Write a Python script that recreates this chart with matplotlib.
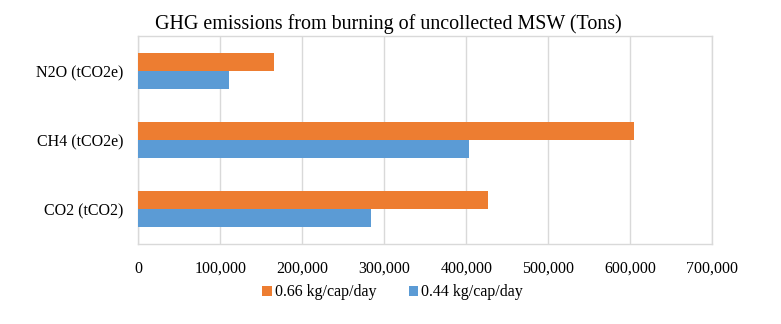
import matplotlib
matplotlib.use("Agg")
import matplotlib.pyplot as plt
import numpy as np
from matplotlib.ticker import FuncFormatter

categories = ["CO2 (tCO2)", "CH4 (tCO2e)", "N2O (tCO2e)"]
series_066 = [426500, 605000, 166000]
series_044 = [284300, 403000, 110600]
labels = ["0.66 kg/cap/day", "0.44 kg/cap/day"]
colors = ["#ED7D31", "#5B9BD5"]

plt.rcParams['font.family'] = ['Liberation Serif', 'DejaVu Serif']

fig = plt.figure(figsize=(7.81, 3.24), dpi=100)
ax = fig.add_axes([0.1771, 0.247, 0.912 - 0.1771, 0.888 - 0.247])

y = np.arange(len(categories))
h = 0.26
b1 = ax.barh(y + h / 2, series_066, height=h, color=colors[0], label=labels[0], zorder=3)
b2 = ax.barh(y - h / 2, series_044, height=h, color=colors[1], label=labels[1], zorder=3)

ax.set_xlim(0, 700000)
ax.set_ylim(-0.5, 2.5)
ax.set_xticks(np.arange(0, 700001, 100000))
ax.xaxis.set_major_formatter(FuncFormatter(lambda v, p: f"{int(v):,}"))
ax.set_yticks(y)
ax.set_yticklabels(categories)
ax.tick_params(axis='both', length=0, labelsize=11.5, colors='#000000')
ax.tick_params(axis='x', pad=12)
ax.tick_params(axis='y', pad=10.5)
ax.grid(axis='x', color='#D9D9D9', linewidth=1, zorder=0)
for s in ax.spines.values():
    s.set_color('#D9D9D9')
    s.set_linewidth(1)

fig.text(0.497, 0.927, "GHG emissions from burning of uncollected MSW (Tons)",
         ha='center', va='center', fontsize=14.4)

leg = fig.legend(handles=[b1, b2], labels=labels, loc='center', bbox_to_anchor=(0.503, 0.098),
                 ncol=2, frameon=False, fontsize=11.5, handlelength=0.6, handleheight=0.6,
                 handletextpad=0.2, columnspacing=2.0)

fig.savefig("out.png", dpi=100)
